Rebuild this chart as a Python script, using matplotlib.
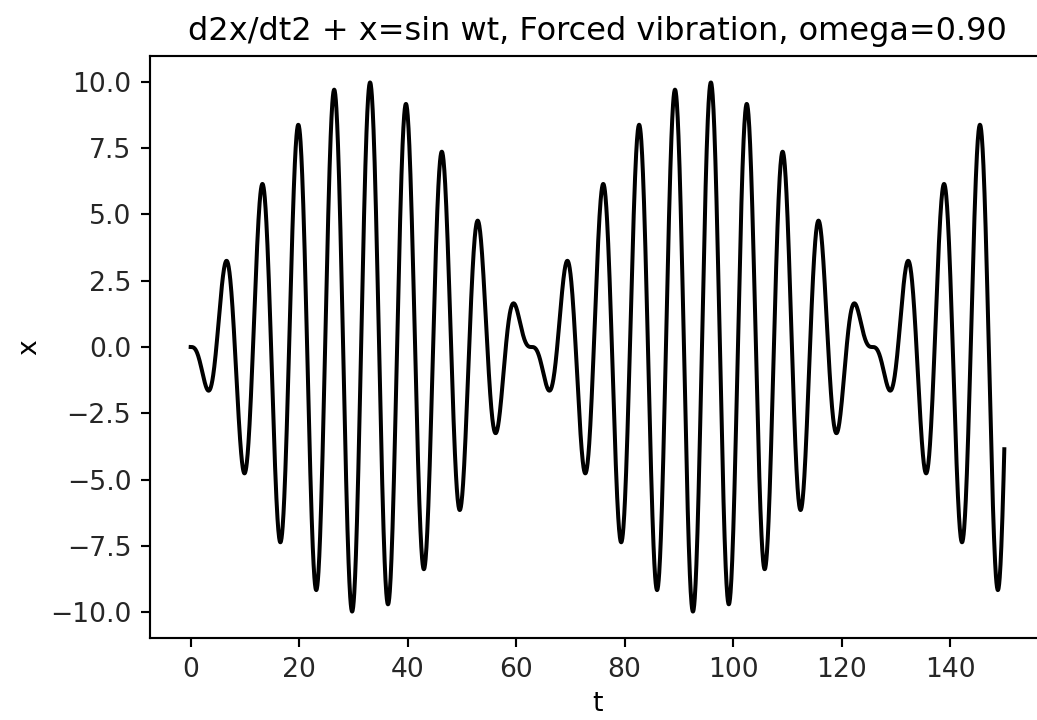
import numpy as np
import matplotlib
matplotlib.use("Agg")
import matplotlib.pyplot as plt

# Parameters (title and axis range)
omega = 0.90
t_start, t_end = 0.0, 150.0
n_samples = 3000

t = np.linspace(t_start, t_end, n_samples)
# Response of the forced oscillator shown in the title (starts at rest, dips negative first)
x = (omega * np.sin(t) - np.sin(omega * t)) / (1 - omega**2)

s = 1.92
fig = plt.figure(figsize=(10.37, 7.2), dpi=100)
ax = fig.add_axes([150 / 1037, 82 / 720, 895 / 1037, 582 / 720])
ax.plot(t, x, color="black", linewidth=1.5 * s)
ax.set_title("d2x/dt2 + x=sin wt, Forced vibration, omega=%.2f" % omega,
             fontsize=12 * s, pad=6 * s)
ax.set_xlabel("t", fontsize=10 * s, labelpad=3 * s)
ax.set_ylabel("x", fontsize=10 * s, labelpad=3 * s)
ax.set_yticks([-10.0, -7.5, -5.0, -2.5, 0.0, 2.5, 5.0, 7.5, 10.0])
ax.set_xticks([0, 20, 40, 60, 80, 100, 120, 140])
ax.tick_params(labelsize=10 * s, length=3.5 * s, width=0.8 * s, pad=3.5 * s,
               labelcolor="#262626")
for sp in ax.spines.values():
    sp.set_linewidth(0.8 * s)
fig.savefig("out.png", dpi=100)
